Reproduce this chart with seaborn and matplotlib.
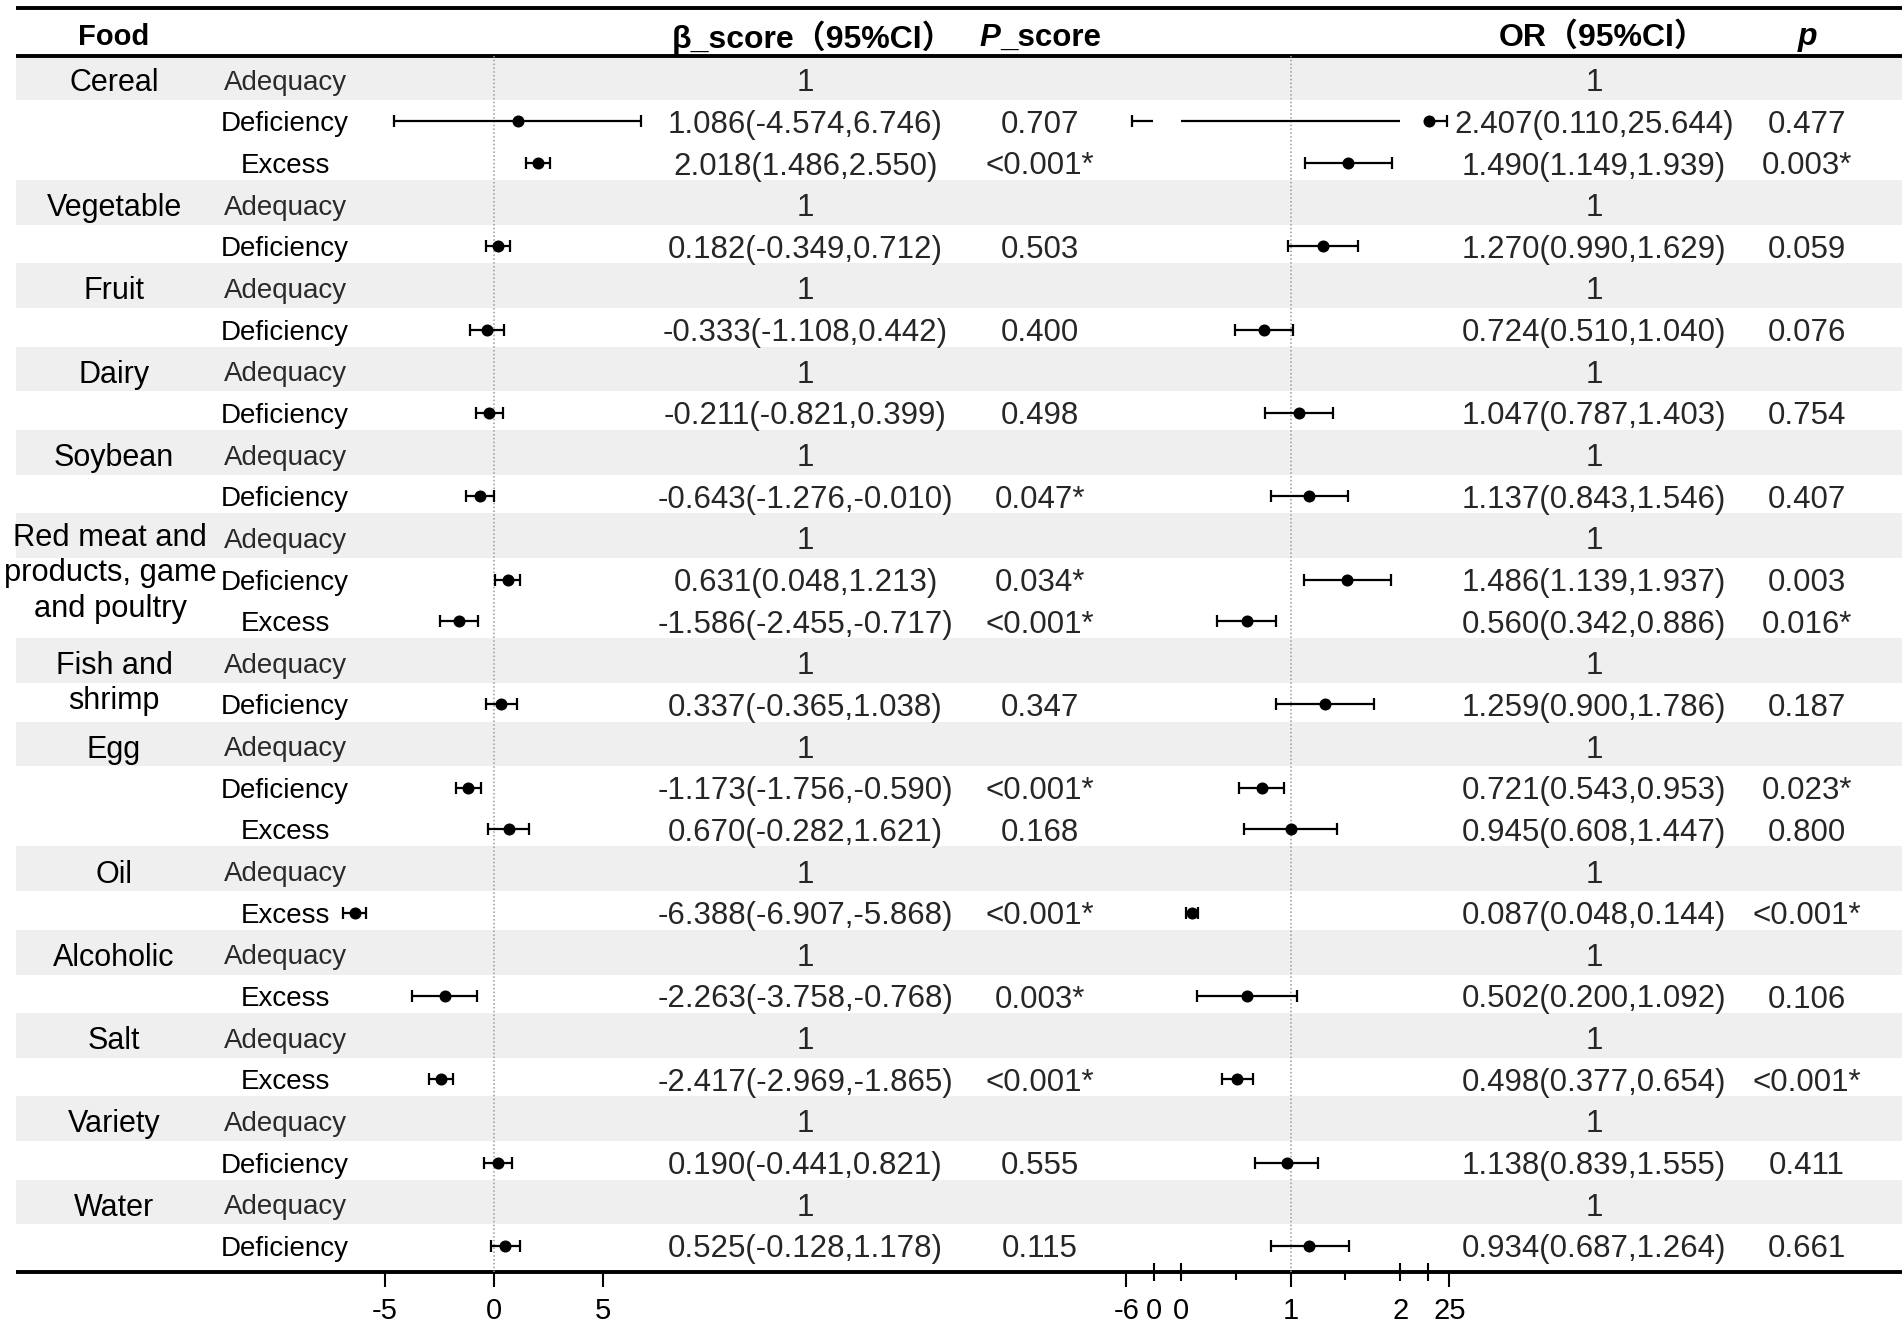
import numpy as np
import pandas as pd
import matplotlib
matplotlib.use("Agg")
import matplotlib.pyplot as plt
from matplotlib.patches import Rectangle
import seaborn as sns

# ----------------------------- data -----------------------------
nan = np.nan
foods = ["Cereal", "Vegetable", "Fruit", "Dairy", "Soybean",
         "Red meat and\nproducts, game\nand poultry", "Fish and\nshrimp", "Egg",
         "Oil", "Alcoholic", "Salt", "Variety", "Water"]
food_levels = [["Adequacy", "Deficiency", "Excess"],
               ["Adequacy", "Deficiency"],
               ["Adequacy", "Deficiency"],
               ["Adequacy", "Deficiency"],
               ["Adequacy", "Deficiency"],
               ["Adequacy", "Deficiency", "Excess"],
               ["Adequacy", "Deficiency"],
               ["Adequacy", "Deficiency", "Excess"],
               ["Adequacy", "Excess"],
               ["Adequacy", "Excess"],
               ["Adequacy", "Excess"],
               ["Adequacy", "Deficiency"],
               ["Adequacy", "Deficiency"]]

beta_est = [nan, 1.086, 2.018, nan, 0.182, nan, -0.333, nan, -0.211, nan, -0.643,
            nan, 0.631, -1.586, nan, 0.337, nan, -1.173, 0.670, nan, -6.388,
            nan, -2.263, nan, -2.417, nan, 0.190, nan, 0.525]
beta_lo = [nan, -4.574, 1.486, nan, -0.349, nan, -1.108, nan, -0.821, nan, -1.276,
           nan, 0.048, -2.455, nan, -0.365, nan, -1.756, -0.282, nan, -6.907,
           nan, -3.758, nan, -2.969, nan, -0.441, nan, -0.128]
beta_hi = [nan, 6.746, 2.550, nan, 0.712, nan, 0.442, nan, 0.399, nan, -0.010,
           nan, 1.213, -0.717, nan, 1.038, nan, -0.590, 1.621, nan, -5.868,
           nan, -0.768, nan, -1.865, nan, 0.821, nan, 1.178]
p_score = ["", "0.707", "<0.001*", "", "0.503", "", "0.400", "", "0.498", "", "0.047*",
           "", "0.034*", "<0.001*", "", "0.347", "", "<0.001*", "0.168", "", "<0.001*",
           "", "0.003*", "", "<0.001*", "", "0.555", "", "0.115"]

# OR as reported in the table column
or_est = [nan, 2.407, 1.490, nan, 1.270, nan, 0.724, nan, 1.047, nan, 1.137,
          nan, 1.486, 0.560, nan, 1.259, nan, 0.721, 0.945, nan, 0.087,
          nan, 0.502, nan, 0.498, nan, 1.138, nan, 0.934]
or_lo = [nan, 0.110, 1.149, nan, 0.990, nan, 0.510, nan, 0.787, nan, 0.843,
         nan, 1.139, 0.342, nan, 0.900, nan, 0.543, 0.608, nan, 0.048,
         nan, 0.200, nan, 0.377, nan, 0.839, nan, 0.687]
or_hi = [nan, 25.644, 1.939, nan, 1.629, nan, 1.040, nan, 1.403, nan, 1.546,
         nan, 1.937, 0.886, nan, 1.786, nan, 0.953, 1.447, nan, 0.144,
         nan, 1.092, nan, 0.654, nan, 1.555, nan, 1.264]
p_or = ["", "0.477", "0.003*", "", "0.059", "", "0.076", "", "0.754", "", "0.407",
        "", "0.003", "0.016*", "", "0.187", "", "0.023*", "0.800", "", "<0.001*",
        "", "0.106", "", "<0.001*", "", "0.411", "", "0.661"]

# OR marks as drawn in the picture
or_mark_est = [nan, 2.266, 1.527, nan, 1.292, nan, 0.756, nan, 1.079, nan, 1.170,
               nan, 1.514, 0.598, nan, 1.313, nan, 0.741, 1.003, nan, 0.102,
               nan, 0.598, nan, 0.512, nan, 0.963, nan, 1.170]
or_mark_lo = [nan, -0.447, 1.128, nan, 0.978, nan, 0.491, nan, 0.768, nan, 0.820,
              nan, 1.118, 0.324, nan, 0.866, nan, 0.531, 0.577, nan, 0.044,
              nan, 0.147, nan, 0.376, nan, 0.674, nan, 0.820]
or_mark_hi = [nan, 2.425, 1.922, nan, 1.611, nan, 1.024, nan, 1.389, nan, 1.526,
              nan, 1.916, 0.866, nan, 1.761, nan, 0.942, 1.423, nan, 0.157,
              nan, 1.054, nan, 0.653, nan, 1.253, nan, 1.532]
or_line_gaps = {1: [(-0.255, 0.0), (2.0, 2.266)]}

beta_ticks = [-5, 0, 5]
beta_ticklabels = ["-5", "0", "5"]
or_ticks_main = [-0.5, 1, 2.45]
or_ticklabels_main = ["-6", "1", "25"]
or_ticks_minor = [0.5, 1.5]
or_ticks_break = [-0.25, 0, 2, 2.25]
or_ticklabels_break = ["0", "0", "2", ""]

headers = ["Food", "β_score（95%CI）", "OR（95%CI）"]

# ----------------------------- layout -----------------------------
W, H = 1902, 1325
ROW0, ROWH = 79.7, 41.65
def ry(i):
    return ROW0 + ROWH * i

sns.set_theme(style="white")
plt.rcParams["font.family"] = ["Liberation Sans", "Noto Sans CJK SC", "DejaVu Sans"]

NUM_FS = 22.5
TICK_FS = 21

fig = plt.figure(figsize=(W / 100, H / 100), dpi=100)
bg = fig.add_axes([0, 0, 1, 1])
bg.set_xlim(0, W)
bg.set_ylim(H, 0)
bg.axis("off")

# build row table
rows = []
for f, levs in zip(foods, food_levels):
    for lv in levs:
        rows.append((f, lv))
n = len(rows)
idx = np.arange(n)

# shaded reference rows
for i, (f, lv) in enumerate(rows):
    if lv == "Adequacy":
        bg.add_patch(Rectangle((16, ry(i) - 24.6), W - 16, 44.8,
                               facecolor="#EFEFEF", edgecolor="none", zorder=0))

# horizontal rules
LW = 2.8
Y_TOP, Y_HEAD, Y_BOT = 8, 56, 1271.7
for yy in (Y_TOP, Y_HEAD, Y_BOT):
    bg.plot([16, W], [yy, yy], color="black", lw=LW, solid_capstyle="butt", zorder=5)

# headers
HY = 34
X_FOOD, X_SUB, X_BETA, X_PS, X_OR, X_P = 114, 285, 805.5, 1040, 1594, 1807
hkw = dict(fontweight="bold", va="center_baseline", color="black")
bg.text(X_FOOD, HY, headers[0], ha="center", fontsize=21, **hkw)
bg.text(813, HY, headers[1], ha="center", fontsize=23, **hkw)
bg.text(1603, HY, headers[2], ha="center", fontsize=23, **hkw)
bg.text(X_P, HY, "p", ha="center", fontstyle="italic", fontsize=23, **hkw)
tP = bg.text(0, HY, "P", ha="left", fontstyle="italic", fontsize=22.5, **hkw)
tS = bg.text(0, HY, "_score", ha="left", fontsize=22.5, **hkw)
r = fig.canvas.get_renderer()
wP = tP.get_window_extent(r).width
wS = tS.get_window_extent(r).width
x0 = 1040 - (wP + wS) / 2
tP.set_x(x0)
tS.set_x(x0 + wP)

# food labels
start = 0
for f, levs in zip(foods, food_levels):
    k = len(levs)
    nlines = f.count("\n") + 1
    yy = ry(start) if nlines == 1 else ry(start + (k - 1) / 2) - (6 if nlines == 3 else 0)
    bg.text(X_FOOD - (4 if nlines == 3 else 0), yy, f, ha="center",
            va="center" if nlines > 1 else "center_baseline",
            fontsize=22.2 if nlines == 3 else 22, color="black", linespacing=1.22)
    start += k

# table text
for i, (f, lv) in enumerate(rows):
    y = ry(i)
    bg.text(X_SUB, y, lv, ha="center", va="center_baseline", fontsize=20,
            color="#2a2a2a" if lv == "Adequacy" else "black")
    if lv == "Adequacy":
        bt, ot = "1", "1"
    else:
        bt = f"{beta_est[i]:.3f}({beta_lo[i]:.3f},{beta_hi[i]:.3f})"
        ot = f"{or_est[i]:.3f}({or_lo[i]:.3f},{or_hi[i]:.3f})"
    bg.text(X_BETA, y, bt, ha="center", va="center_baseline", fontsize=NUM_FS)
    bg.text(X_PS, y, p_score[i], ha="center", va="center_baseline", fontsize=NUM_FS)
    bg.text(X_OR, y, ot, ha="center", va="center_baseline", fontsize=NUM_FS)
    bg.text(X_P, y, p_or[i], ha="center", va="center_baseline", fontsize=NUM_FS)

# ----------------------------- forest panels -----------------------------
row_top = (Y_HEAD - ROW0) / ROWH
row_bot = (Y_BOT - ROW0) / ROWH

def make_axes(px0, px1, xfun):
    ax = fig.add_axes([px0 / W, (H - Y_BOT) / H, (px1 - px0) / W, (Y_BOT - Y_HEAD) / H])
    ax.set_facecolor("none")
    for s in ax.spines.values():
        s.set_visible(False)
    ax.set_xlim(xfun(px0), xfun(px1))
    return ax

def draw_forest(ax, est, lo, hi, gaps, ref):
    ax.axvline(ref, color="#9a9a9a", ls=(0, (1, 1.5)), lw=1.1, zorder=1)
    for i in range(n):
        if np.isnan(lo[i]):
            continue
        cuts = gaps.get(i, [])
        pts = [lo[i]] + [v for g in cuts for v in g] + [hi[i]]
        for a, b in zip(pts[0::2], pts[1::2]):
            ax.plot([a, b], [i, i], color="black", lw=1.6, solid_capstyle="butt", zorder=3)
        ax.plot([lo[i], hi[i]], [i, i], ls="none", marker="|", ms=8, mew=1.6,
                color="black", zorder=3)
    df = pd.DataFrame({"est": est, "row": idx}).dropna()
    sns.scatterplot(data=df, x="est", y="row", ax=ax, color="black", s=75,
                    linewidth=0, zorder=4, legend=False)
    ax.set_ylim(row_bot, row_top)
    ax.set_xlabel("")
    ax.set_ylabel("")
    ax.set_yticks([])

beta_px = lambda px: (px - 494) / 21.8
ax_b = make_axes(330, 680, beta_px)
draw_forest(ax_b, beta_est, beta_lo, beta_hi, {}, 0)
ax_b.set_xlim(beta_px(330), beta_px(680))
ax_b.set_xticks(beta_ticks, labels=beta_ticklabels)
ax_b.tick_params(axis="x", bottom=True, direction="out", length=11, width=1.5,
                 color="black", labelsize=TICK_FS, labelcolor="black", pad=7.5)

or_px = lambda px: 1 + (px - 1290.7) / 109.5
ax_o = make_axes(1110, 1480, or_px)
draw_forest(ax_o, or_mark_est, or_mark_lo, or_mark_hi, or_line_gaps, 1)
ax_o.set_xlim(or_px(1110), or_px(1480))
ax_o.set_xticks(or_ticks_main, labels=or_ticklabels_main)
ax_o.set_xticks(or_ticks_minor, minor=True)
ax_o.tick_params(axis="x", which="major", bottom=True, direction="out", length=11,
                 width=1.5, color="black", labelsize=TICK_FS, labelcolor="black", pad=7.5)
ax_o.tick_params(axis="x", which="minor", bottom=True, direction="out", length=6,
                 width=1.5, color="black")
sec = ax_o.secondary_xaxis("bottom")
sec.set_xticks(or_ticks_break, labels=or_ticklabels_break)
sec.tick_params(axis="x", bottom=True, direction="inout", length=13, width=1.5,
                color="black", labelsize=TICK_FS, labelcolor="black", pad=12)
for s in sec.spines.values():
    s.set_visible(False)

fig.savefig("out.png", dpi=100)
